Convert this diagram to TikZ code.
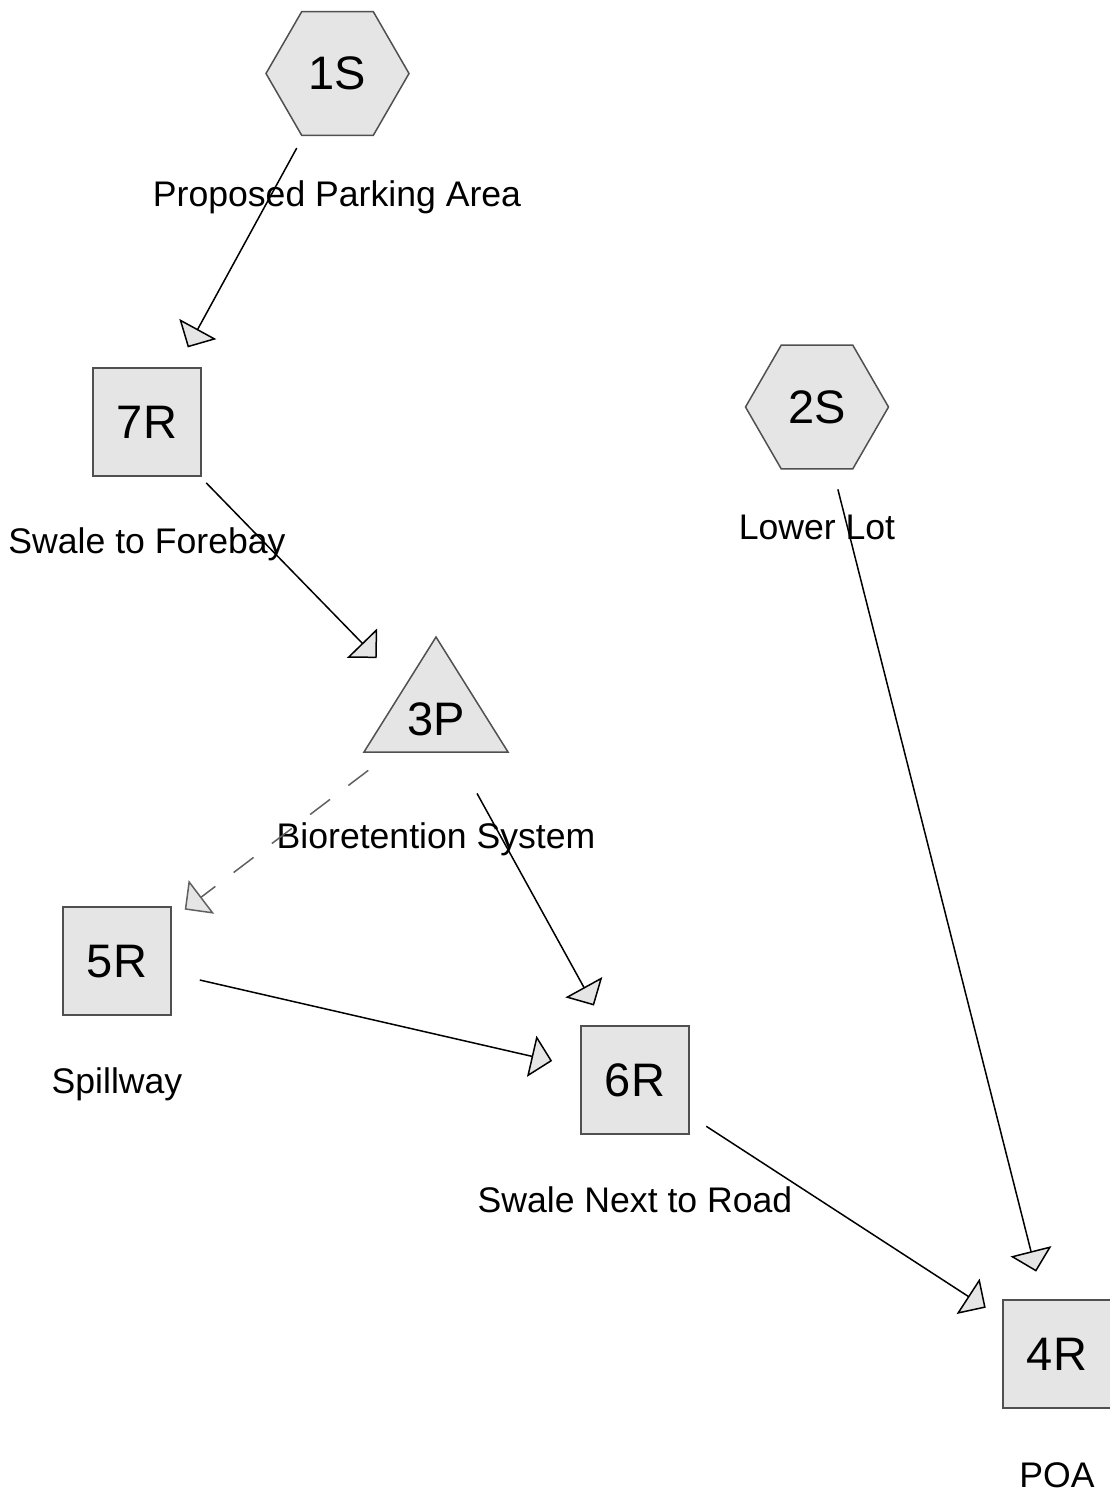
\documentclass[tikz,border=0pt]{standalone}
\usepackage{fontspec}
\setmainfont{Liberation Sans}
\usetikzlibrary{arrows.meta}
\usetikzlibrary{shapes.geometric}
\definecolor{nodeline}{HTML}{505050}
\definecolor{dashgray}{HTML}{606060}

\begin{document}
\begin{tikzpicture}[x=1pt, y=-1pt,
  idfont/.style={font=\fontsize{47}{52}\selectfont, text depth=0pt},
  subcat/.style={idfont, draw=nodeline, fill=gray!20, line width=1.5pt, regular polygon, regular polygon sides=6, minimum size=143pt, inner sep=0pt},
  reach/.style={idfont, draw=nodeline, fill=gray!20, line width=1.5pt, rectangle, minimum size=108pt, inner sep=0pt},
  pond/.style={idfont, inner sep=0pt},
  lbl/.style={font=\fontsize{35.6}{40}\selectfont, text depth=0pt, inner sep=0pt},
  flow/.style={line width=1.5pt, shorten <=85pt, shorten >=85pt, -{Triangle[length=21pt, width=42pt, fill=gray!20]}},
  spill/.style={flow, draw=dashgray, dash pattern=on 25pt off 23pt}]
\useasboundingbox (0,0) rectangle (1110,1494);

% subcatchments
\node[subcat] (n1S) at (337.5,73.5) {1S};
\node[subcat] (n2S) at (817,407) {2S};
% reaches
\node[reach] (n7R) at (147,422) {7R};
\node[reach] (n5R) at (117,961) {5R};
\node[reach] (n6R) at (635,1080) {6R};
\node[reach] (n4R) at (1057,1354) {4R};
% pond
\draw[draw=nodeline, fill=gray!20, line width=1.5pt] (436,637) -- (508,752) -- (364,752) -- cycle;
\node[pond] (n3P) at (436,719) {3P};

% labels
\node[lbl] (l1S) at (337,194) {Proposed Parking Area};
\node[lbl] (l2S) at (817,527) {Lower Lot};
\node[lbl] (l7R) at (147,541) {Swale to Forebay};
\node[lbl] (l3P) at (436,836) {Bioretention System};
\node[lbl] (l5R) at (117,1081) {Spillway};
\node[lbl] (l6R) at (635,1200) {Swale Next to Road};
\node[lbl] (l4R) at (1057,1475) {POA};

% flows
\draw[flow] (n1S.center) -- (n7R.center);
\draw[flow] (n7R.center) -- (n3P.center);
\draw[spill] (n3P.center) -- (n5R.center);
\draw[flow] (n3P.center) -- (n6R.center);
\draw[flow] (n5R.center) -- (n6R.center);
\draw[flow] (n6R.center) -- (n4R.center);
\draw[flow] (n2S.center) -- (n4R.center);
\end{tikzpicture}
\end{document}
